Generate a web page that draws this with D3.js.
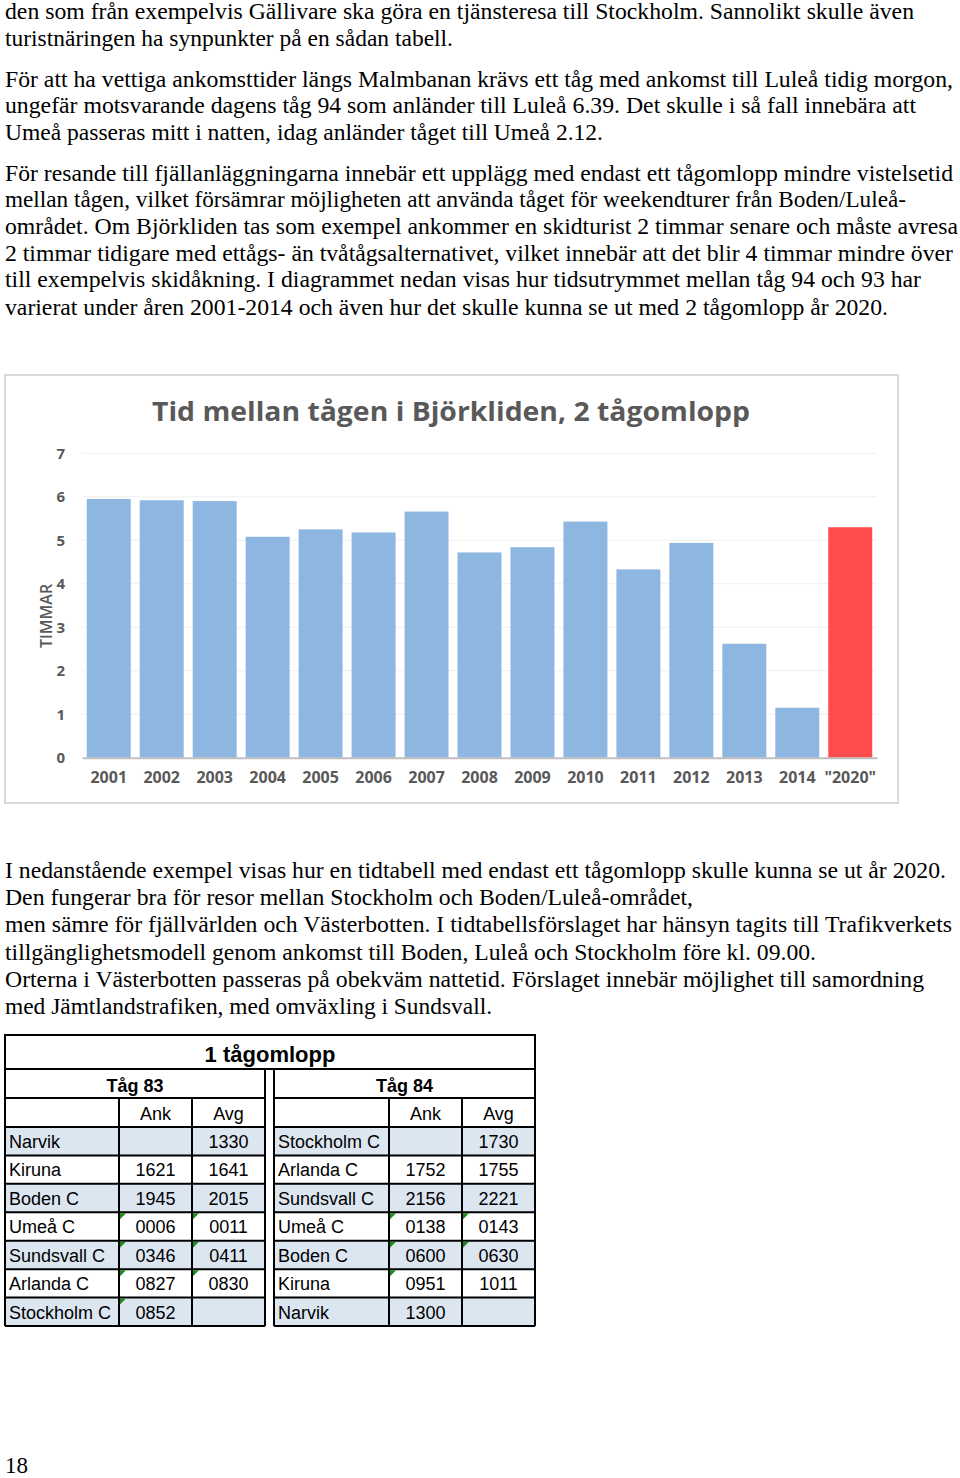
<!DOCTYPE html>
<html>
<head>
<meta charset="utf-8">
<script src="https://cdn.jsdelivr.net/npm/d3@7"></script>
<style>
  body { margin: 0; background: #fff; }
  svg { display: block; }
</style>
</head>
<body>
<script>
// page size
var width = 960, height = 1478;

// chart data
var years = ["2001", "2002", "2003", "2004", "2005", "2006", "2007", "2008",
	"2009", "2010", "2011", "2012", "2013", "2014", "\"2020\""];
var hours = [5.95, 5.92, 5.90, 5.08, 5.25, 5.18, 5.66, 4.72, 4.84, 5.43, 4.33, 4.94, 2.62, 1.15, 5.30];
var yTicks = [0, 1, 2, 3, 4, 5, 6, 7];
var chartTitle = "Tid mellan tågen i Björkliden, 2 tågomlopp";
var yTitle = "TIMMAR";

// timetable data
var tableTitle = "1 tågomlopp";
var trainNames = ["Tåg 83", "Tåg 84"];
var colHeads = ["", "Ank", "Avg"];
var train83 = [
	["Narvik", "", "1330"],
	["Kiruna", "1621", "1641"],
	["Boden C", "1945", "2015"],
	["Umeå C", "0006", "0011"],
	["Sundsvall C", "0346", "0411"],
	["Arlanda C", "0827", "0830"],
	["Stockholm C", "0852", ""]
];
var train84 = [
	["Stockholm C", "", "1730"],
	["Arlanda C", "1752", "1755"],
	["Sundsvall C", "2156", "2221"],
	["Umeå C", "0138", "0143"],
	["Boden C", "0600", "0630"],
	["Kiruna", "0951", "1011"],
	["Narvik", "1300", ""]
];

// body text (lines as set in the page, with baseline and right edge of each line)
var textTop = [
	"den som från exempelvis Gällivare ska göra en tjänsteresa till Stockholm. Sannolikt skulle även",
	"turistnäringen ha synpunkter på en sådan tabell.",
	"För att ha vettiga ankomsttider längs Malmbanan krävs ett tåg med ankomst till Luleå tidig morgon,",
	"ungefär motsvarande dagens tåg 94 som anländer till Luleå 6.39. Det skulle i så fall innebära att",
	"Umeå passeras mitt i natten, idag anländer tåget till Umeå 2.12.",
	"För resande till fjällanläggningarna innebär ett upplägg med endast ett tågomlopp mindre vistelsetid",
	"mellan tågen, vilket försämrar möjligheten att använda tåget för weekendturer från Boden/Luleå-",
	"området. Om Björkliden tas som exempel ankommer en skidturist 2 timmar senare och måste avresa",
	"2 timmar tidigare med ettågs- än tvåtågsalternativet, vilket innebär att det blir 4 timmar mindre över",
	"till exempelvis skidåkning. I diagrammet nedan visas hur tidsutrymmet mellan tåg 94 och 93 har",
	"varierat under åren 2001-2014 och även hur det skulle kunna se ut med 2 tågomlopp år 2020."
];
var textTopY = [19, 46, 87, 113, 140, 181, 207, 234, 261, 287, 315];
var textTopRight = [914, 453, 953, 916, 603, 953, 906, 958, 953, 921, 888];
var textBottom = [
	"I nedanstående exempel visas hur en tidtabell med endast ett tågomlopp skulle kunna se ut år 2020.",
	"Den fungerar bra för resor mellan Stockholm och Boden/Luleå-området,",
	"men sämre för fjällvärlden och Västerbotten. I tidtabellsförslaget har hänsyn tagits till Trafikverkets",
	"tillgänglighetsmodell genom ankomst till Boden, Luleå och Stockholm före kl. 09.00.",
	"Orterna i Västerbotten passeras på obekväm nattetid. Förslaget innebär möjlighet till samordning",
	"med Jämtlandstrafiken, med omväxling i Sundsvall."
];
var textBottomY = [878, 905, 932, 960, 987, 1014];
var textBottomRight = [946, 693, 952, 816, 924, 492];

var svg = d3.select('body').append('svg').attr('width', width).attr('height', height);
svg.append('rect').attr('width', width).attr('height', height).attr('fill', '#fff');

var leftX = 5;
function drawText(lines, ys, rights) {
	svg.append('g').selectAll('text').data(lines).enter().append('text')
		.attr('x', leftX).attr('y', (d, i) => ys[i])
		.attr('font-family', '"Liberation Serif", "Times New Roman", serif')
		.attr('font-size', 23).attr('fill', '#000')
		.attr('textLength', (d, i) => rights[i] - leftX)
		.attr('lengthAdjust', 'spacingAndGlyphs')
		.text(d => d);
}
drawText(textTop, textTopY, textTopRight);
drawText(textBottom, textBottomY, textBottomRight);

svg.append('text').attr('x', 5).attr('y', 1473)
	.attr('font-family', '"Liberation Serif", serif').attr('font-size', 23).text('18');

// ---- bar chart ----
var chart = svg.append('g');
chart.append('rect').attr('x', 5).attr('y', 375).attr('width', 893).attr('height', 428)
	.attr('fill', '#fff').attr('stroke', '#d9d9d9').attr('stroke-width', 2);

chart.append('text').attr('x', 451).attr('y', 421)
	.attr('text-anchor', 'middle')
	.attr('font-family', '"Open Sans", sans-serif').attr('font-weight', 700)
	.attr('font-size', 27).attr('fill', '#595959')
	.attr('textLength', 598).attr('lengthAdjust', 'spacingAndGlyphs')
	.text(chartTitle);

var x_scale = d3.scaleBand().domain(years).range([82, 877]).paddingInner(0.17).paddingOuter(0.09);
var y_scale = d3.scaleLinear().domain([0, 7]).range([757.7, 453.3]);

chart.append('g').selectAll('line').data(yTicks.slice(1)).enter().append('line')
	.attr('x1', 82).attr('x2', 877)
	.attr('y1', d => y_scale(d)).attr('y2', d => y_scale(d))
	.attr('stroke', '#efefef').attr('stroke-width', 1);

chart.append('g').selectAll('rect').data(hours).enter().append('rect')
	.attr('x', (d, i) => x_scale(years[i]))
	.attr('width', x_scale.bandwidth())
	.attr('y', d => y_scale(d))
	.attr('height', d => y_scale(0) - y_scale(d))
	.attr('fill', (d, i) => i == years.length - 1 ? '#ff4b4b' : '#8db6e0');

var yAxis = chart.append('g').attr('transform', 'translate(82,0)')
	.call(d3.axisLeft(y_scale).tickValues(yTicks).tickFormat(d3.format('d')).tickSize(0).tickPadding(17));
yAxis.select('.domain').remove();
yAxis.selectAll('text').attr('font-family', '"Open Sans", sans-serif').attr('font-weight', 700)
	.attr('font-size', 15).attr('fill', '#595959');

var xAxis = chart.append('g').attr('transform', 'translate(0,' + y_scale(0) + ')')
	.call(d3.axisBottom(x_scale).tickSize(0).tickPadding(14));
xAxis.select('.domain').attr('stroke', '#bfbfbf').attr('stroke-width', 2);
xAxis.selectAll('text').attr('font-family', '"Open Sans", sans-serif').attr('font-weight', 700)
	.attr('font-size', 16).attr('fill', '#595959');

chart.append('text').attr('transform', 'translate(52,616) rotate(-90)')
	.attr('text-anchor', 'middle')
	.attr('font-family', '"Open Sans", sans-serif').attr('font-weight', 600)
	.attr('font-size', 16).attr('fill', '#595959').text(yTitle);

// ---- timetable ----
var tbl = svg.append('g');
var rowY = [1035, 1069, 1098, 1127];
var rowH = (1326 - 1127) / train83.length;
var sideX = [[5, 119, 192, 265], [274, 389, 462, 535]];
var lineW = 2;

function drawTrain(rows, name, xs) {
	var g = tbl.append('g');
	var rowTop = i => rowY[3] + i * rowH;
	// shaded rows
	g.selectAll('rect.band').data(rows).enter().append('rect')
		.attr('x', xs[0]).attr('width', xs[3] - xs[0])
		.attr('y', (d, i) => rowTop(i)).attr('height', rowH)
		.attr('fill', (d, i) => i % 2 == 0 ? '#dce6f1' : '#fff');
	// train name
	g.append('text').attr('x', (xs[0] + xs[3]) / 2).attr('y', rowY[1] + 23)
		.attr('text-anchor', 'middle').attr('font-family', '"Liberation Sans", Arial, sans-serif')
		.attr('font-weight', 700).attr('font-size', 18).text(name);
	// column heads
	g.selectAll('text.head').data(colHeads).enter().append('text')
		.attr('x', (d, i) => (xs[i] + xs[i + 1]) / 2).attr('y', rowY[2] + 22)
		.attr('text-anchor', 'middle').attr('font-family', '"Liberation Sans", Arial, sans-serif')
		.attr('font-size', 18).text(d => d);
	// cells
	rows.forEach((r, i) => {
		r.forEach((v, j) => {
			g.append('text')
				.attr('x', j == 0 ? xs[0] + 4 : (xs[j] + xs[j + 1]) / 2)
				.attr('y', rowTop(i) + 21)
				.attr('text-anchor', j == 0 ? 'start' : 'middle')
				.attr('font-family', '"Liberation Sans", Arial, sans-serif')
				.attr('font-size', 18).text(v);
		});
	});
	// grid lines
	var hl = [rowY[1], rowY[2], rowY[3]].concat(rows.map((d, i) => rowTop(i + 1)));
	g.selectAll('line.h').data(hl).enter().append('line')
		.attr('x1', xs[0]).attr('x2', xs[3]).attr('y1', d => d).attr('y2', d => d)
		.attr('stroke', '#000').attr('stroke-width', lineW);
	g.selectAll('line.v').data(xs).enter().append('line')
		.attr('x1', d => d).attr('x2', d => d)
		.attr('y1', (d, i) => (i == 0 || i == 3) ? rowY[1] : rowY[2]).attr('y2', rowTop(rows.length))
		.attr('stroke', '#000').attr('stroke-width', lineW);
	// green markers for times typed as text (leading zero)
	rows.forEach((r, i) => {
		r.forEach((v, j) => {
			if (j > 0 && v.charAt(0) == '0') {
				g.append('path')
					.attr('d', 'M' + (xs[j] + 1) + ',' + (rowTop(i) + 1) + 'h6l-6,6z')
					.attr('fill', '#1a8a1a');
			}
		});
	});
}
drawTrain(train83, trainNames[0], sideX[0]);
drawTrain(train84, trainNames[1], sideX[1]);

// title row
tbl.append('rect').attr('x', 5).attr('y', rowY[0]).attr('width', 530).attr('height', rowY[1] - rowY[0])
	.attr('fill', 'none').attr('stroke', '#000').attr('stroke-width', lineW);
tbl.append('text').attr('x', 270).attr('y', rowY[0] + 27).attr('text-anchor', 'middle')
	.attr('font-family', '"Liberation Sans", Arial, sans-serif').attr('font-weight', 700)
	.attr('font-size', 22).text(tableTitle);
</script>
</body>
</html>
